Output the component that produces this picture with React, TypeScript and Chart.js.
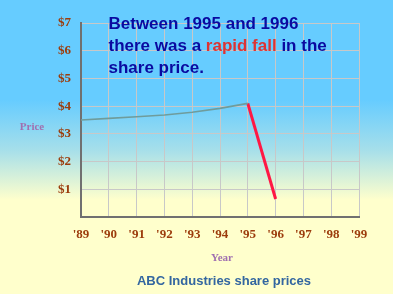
import React, { useEffect, useRef } from "react";
import { Chart, registerables } from "chart.js";

Chart.register(...registerables);

const years = ["'89", "'90", "'91", "'92", "'93", "'94", "'95", "'96", "'97", "'98", "'99"];
const steadyPrices = [3.5, 3.56, 3.62, 3.68, 3.78, 3.92, 4.1, null, null, null, null];
const fallPrices = [null, null, null, null, null, null, 4.1, 0.65, null, null, null];
const yTicks = [0, 1, 2, 3, 4, 5, 6, 7];

const W = 393;
const H = 294;

const textPlugin = {
  id: "annotations",
  afterDraw(chart: any) {
    const ctx = chart.ctx as CanvasRenderingContext2D;
    ctx.save();
    // headline
    ctx.font = "bold 17px 'Liberation Sans', Arial, sans-serif";
    ctx.textBaseline = "alphabetic";
    ctx.textAlign = "left";
    const blue = "#0a0aa0";
    const red = "#dd3333";
    const x0 = 108.5;
    ctx.fillStyle = blue;
    ctx.fillText("Between 1995 and 1996", x0, 28.5);
    let x = x0;
    const parts: [string, string][] = [
      ["there was a ", blue],
      ["rapid fall", red],
      [" in the", blue],
    ];
    for (const [t, c] of parts) {
      ctx.fillStyle = c;
      ctx.fillText(t, x, 50.5);
      x += ctx.measureText(t).width;
    }
    ctx.fillStyle = blue;
    ctx.fillText("share price.", x0, 72.5);

    // axis labels
    ctx.font = "bold 11px 'Liberation Serif', 'Times New Roman', serif";
    ctx.fillStyle = "#a070b0";
    ctx.textAlign = "center";
    ctx.textBaseline = "middle";
    ctx.fillText("Price", 32, 127);
    ctx.fillText("Year", 222, 258);

    // caption
    ctx.font = "bold 13px 'Liberation Sans', Arial, sans-serif";
    ctx.fillStyle = "#3366a0";
    ctx.textBaseline = "alphabetic";
    ctx.fillText("ABC Industries share prices", 224, 284.5);
    ctx.restore();
  },
};

export default function App() {
  const ref = useRef<HTMLCanvasElement>(null);

  useEffect(() => {
    if (!ref.current) return;
    const tickFont = { family: "'Liberation Serif', 'Times New Roman', serif", size: 13, weight: "bold" as const };
    const chart = new Chart(ref.current, {
      type: "line",
      data: {
        labels: years,
        datasets: [
          {
            data: steadyPrices,
            borderColor: "#6f9c9c",
            borderWidth: 1.6,
            pointRadius: 0,
            tension: 0,
            spanGaps: false,
          },
          {
            data: fallPrices,
            borderColor: "#ff1744",
            borderWidth: 3,
            pointRadius: 0,
            tension: 0,
            spanGaps: false,
          },
        ],
      },
      options: {
        responsive: false,
        animation: false,
        events: [],
        layout: { padding: { top: 23, right: 34, left: 0, bottom: 0 } },
        plugins: {
          legend: { display: false },
          title: { display: false },
          tooltip: { enabled: false },
        },
        scales: {
          x: {
            type: "category",
            offset: false,
            grid: { color: "#c8c8c8", lineWidth: 1, drawTicks: false },
            border: { color: "#707070", width: 2 },
            ticks: { font: tickFont, color: "#9c3c0c", padding: 10, maxRotation: 0, autoSkip: false },
            afterFit(scale: any) {
              scale.height = H - 217;
            },
          },
          y: {
            min: 0,
            max: 7,
            afterBuildTicks(scale: any) {
              scale.ticks = yTicks.map((v) => ({ value: v }));
            },
            grid: { color: "#c8c8c8", lineWidth: 1, drawTicks: false },
            border: { color: "#707070", width: 2 },
            ticks: {
              font: tickFont,
              color: "#9c3c0c",
              padding: 10,
              callback: (v: any) => (Number(v) === 0 ? "" : "$" + v),
            },
            afterFit(scale: any) {
              scale.width = 81;
            },
          },
        },
      },
      plugins: [textPlugin],
    });
    return () => chart.destroy();
  }, []);

  return (
    <div
      style={{
        position: "absolute",
        left: 0,
        top: 0,
        width: W,
        height: H,
        background:
          "linear-gradient(to bottom, #66ccff 0px, #66ccff 100px, #a6dfea 150px, #ffffcc 200px, #ffffcc 294px)",
      }}
    >
      <canvas ref={ref} width={W} height={H} style={{ display: "block", width: W, height: H }} />
    </div>
  );
}
